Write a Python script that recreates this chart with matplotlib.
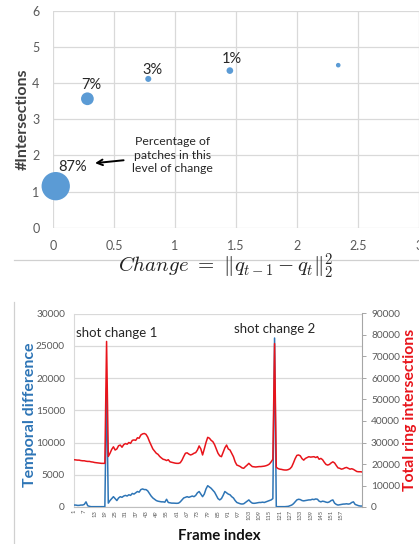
import matplotlib
matplotlib.use('Agg')
import matplotlib.pyplot as plt
from matplotlib.lines import Line2D

plt.rcParams['font.family'] = ['Lato', 'DejaVu Sans']
plt.rcParams['mathtext.fontset'] = 'cm'

# ---- top chart: change vs #intersections (bubbles) ----
change = [0.02, 0.28, 0.78, 1.45, 2.34]
intersections = [1.15, 3.57, 4.12, 4.35, 4.50]
bubble_size = [416, 84, 19, 23, 11]
pct_labels = ['87%', '7%', '3%', '1%', '']

# ---- bottom chart: per-frame series ----
temporal_diff = [
    300, 300, 250, 250, 300, 300, 400, 800, 200, 100,
    50, 50, 50, 50, 50, 50, 50, 50, 50,
    18500,
    600, 1000, 1300, 1600, 1300, 1000, 1400, 1600, 1500, 1700,
    1800, 1700, 1900, 1800, 2100, 2000, 2200, 2400, 2300, 2700,
    2800, 2700, 2700, 2500, 2100, 1700, 1400, 1200, 1000, 900,
    850, 800, 800, 750, 1200, 700, 650, 600, 600, 580,
    570, 600, 800, 1100, 1400, 1500, 1600, 1500, 1600, 1700,
    1600, 1800, 2200, 2400, 2000, 1600, 2000, 2800, 3300, 3100,
    2900, 2600, 2300, 1800, 1300, 1100, 1300, 1800, 2400, 2200,
    2000, 1900, 1600, 1400, 1000, 700, 600, 500, 460, 500,
    700, 900, 1100, 800, 600, 570, 600, 650, 700, 700,
    750, 700, 800, 900, 1000, 1100, 1300,
    26200,
    50, 50, 50, 50, 50, 50, 80, 100, 200, 300,
    500, 800, 1100, 1200, 1150, 1000, 950, 1000, 1050, 1100,
    1100, 1200, 1150, 1250, 1200, 900, 800, 900, 850, 750,
    700, 800, 1000, 1100, 600, 400, 300, 350, 400, 450,
    460, 500, 450, 500, 700, 800, 400, 300, 200, 150, 150,
]
ring_intersections = [
    22000, 21900, 21800, 21800, 21600, 21500, 21500, 21300, 21200, 21200,
    21000, 20900, 20700, 20600, 20500, 20400, 20300, 20300, 20300,
    77000,
    23500, 25000, 26800, 28000, 26500, 27000, 28500, 28800, 27800, 29000,
    29500, 29200, 30000, 29600, 31000, 31200, 31000, 32200, 32000, 33500,
    34000, 34200, 33800, 32500, 30500, 28800, 27000, 26000, 25000, 24500,
    23500, 22800, 22200, 22000, 21600, 22000, 21000, 20800, 20600, 20400,
    20300, 20300, 20600, 21800, 23500, 25000, 25200, 24600, 24200, 24500,
    25000, 25300, 26500, 28400, 27000, 24200, 27000, 30000, 32400, 32000,
    31000, 30400, 29000, 27000, 25000, 23800, 23400, 25500, 27500, 28800,
    27000, 26500, 25000, 23400, 21000, 19500, 19200, 18800, 18200, 18000,
    18800, 19500, 20300, 19500, 18800, 18700, 18600, 18700, 18800, 18800,
    18900, 19000, 19200, 19500, 20000, 21000, 22200,
    76000,
    18500, 17900, 17600, 17500, 17300, 17200, 17200, 17400, 17800, 18700,
    20500, 22500, 24000, 24200, 23800, 22500, 21800, 22600, 23000, 23400,
    23200, 23300, 23400, 23000, 23400, 22200, 22600, 22000, 20800, 19800,
    19500, 19800, 20500, 21000, 20500, 19300, 18200, 18000, 17600, 17800,
    18200, 18400, 18000, 17600, 17800, 17500, 17000, 16500, 16400, 16400, 16300,
]
frames = list(range(1, len(ring_intersections) + 1))
frame_ticks = list(range(1, 158, 6))

W, H = 419, 544
fig = plt.figure(figsize=(W / 100, H / 100), dpi=100)
fig.patch.set_facecolor('white')


def box(x0, y0, x1, y1):
    # pixel box (top-left origin) -> figure rect
    return [x0 / W, 1 - y1 / H, (x1 - x0) / W, (y1 - y0) / H]


def pt(x, y):
    return x / W, 1 - y / H


grid_c = '#D9D9D9'
tick_c = '#595959'

# ---------------- top chart ----------------
ax1 = fig.add_axes(box(53.3, 11, 418.6, 227.7))
ax1.set_xlim(0, 3)
ax1.set_ylim(0, 6)
ax1.set_xticks([0, 0.5, 1, 1.5, 2, 2.5, 3])
ax1.set_xticklabels(['0', '0.5', '1', '1.5', '2', '2.5', '3'])
ax1.set_yticks(range(7))
ax1.grid(True, color=grid_c, lw=0.9)
ax1.set_axisbelow(True)
for s in ax1.spines.values():
    s.set_visible(False)
ax1.tick_params(axis='both', length=0, labelsize=9, labelcolor=tick_c)
ax1.tick_params(axis='x', pad=9)
ax1.tick_params(axis='y', pad=10)

ax1.scatter(change, intersections, s=bubble_size, color='#5B9BD5',
            edgecolors='none', zorder=3, clip_on=False)

label_offsets = [(12.2, 13.9), (2.9, 9.9), (2.7, 6.5), (1.4, 8.4), (0, 0)]
for x, y, lab, off in zip(change, intersections, pct_labels, label_offsets):
    if lab:
        ax1.annotate(lab, (x, y), xytext=off, textcoords='offset points',
                     ha='center', va='center', fontsize=10.5, color='#262626')

ax1.text(0.98, 2.01, 'Percentage of\npatches in this\nlevel of change',
         ha='center', va='center', fontsize=8.8, color='#262626',
         linespacing=1.25)
ax1.annotate('', xy=(0.32, 1.78), xytext=(0.60, 1.875),
             arrowprops=dict(arrowstyle='->', lw=1.4, color='black',
                             mutation_scale=10))

fig.text(*pt(23, 119), '#Intersections', rotation=90, ha='center',
         va='center', fontsize=11.5, fontweight='bold', color='#404040')

fig.text(*pt(226, 266), r'$Change\ =\ \|q_{t-1} - q_t\|_2^2$',
         ha='center', va='center', fontsize=15, color='#222222')

# separator and frame of the lower chart
fig.add_artist(Line2D([14 / W, 1], [1 - 260 / H] * 2, color='#D0D0D0', lw=0.9))
fig.add_artist(Line2D([14 / W] * 2, [1 - 302 / H, 0], color='#D0D0D0', lw=0.9))

# ---------------- bottom chart ----------------
ax2 = fig.add_axes(box(74, 313.5, 362, 507))
ax2.set_xlim(1, len(frames))
ax2.set_ylim(0, 30000)
ax2.set_yticks(range(0, 30001, 5000))
ax2.grid(True, axis='y', color=grid_c, lw=0.9)
ax2.set_axisbelow(True)
ax2.set_xticks(frame_ticks)
ax2.set_xticklabels([str(f) for f in frame_ticks], rotation=90)
ax2.tick_params(axis='y', length=0, labelsize=7.3, labelcolor=tick_c, pad=6.5)
ax2.tick_params(axis='x', length=0, labelsize=4.2, labelcolor=tick_c, pad=2)
ax2.spines['top'].set_visible(False)
ax2.spines['right'].set_visible(False)
ax2.spines['left'].set_color(grid_c)
ax2.spines['bottom'].set_color('#BFBFBF')
ax2.plot(frames, temporal_diff, color='#2E75B6', lw=1.1, zorder=3)

ax3 = ax2.twinx()
ax3.set_ylim(0, 90000)
ax3.set_yticks(range(0, 90001, 10000))
ax3.tick_params(axis='y', length=3, width=0.7, color='#A6A6A6',
                labelsize=7.3, labelcolor=tick_c, pad=3.5)
for side in ('top', 'left', 'bottom'):
    ax3.spines[side].set_visible(False)
ax3.spines['right'].set_color('#A6A6A6')
ax3.plot(frames, ring_intersections, color='#E8141B', lw=1.1, zorder=3)

fig.text(*pt(116.5, 333.3), 'shot change 1', ha='center', va='center',
         fontsize=9.5, color='#262626')
fig.text(*pt(275, 329), 'shot change 2', ha='center', va='center',
         fontsize=9.5, color='#262626')

fig.text(*pt(30, 415), 'Temporal difference', rotation=90, ha='center',
         va='center', fontsize=11.5, fontweight='bold', color='#2E75B6')
fig.text(*pt(410, 410), 'Total ring intersections', rotation=90,
         ha='center', va='center', fontsize=11.3, fontweight='bold',
         color='#E8141B')
fig.text(*pt(219, 536), 'Frame index', ha='center', va='center',
         fontsize=10.8, fontweight='bold', color='#111111')

fig.savefig('out.png', dpi=100)
